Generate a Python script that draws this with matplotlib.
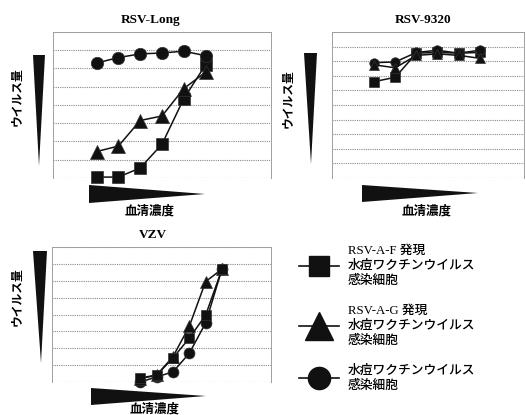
import numpy as np
import matplotlib.pyplot as plt
from matplotlib.patches import Polygon
from matplotlib.lines import Line2D

W, H = 526, 415

# serum dilution steps (same for every panel)
x_pts = [1, 2, 3, 4, 5, 6]

# RSV-Long
long_sq = [0.05, 0.05, 0.55, 1.85, 4.35, 6.2]
long_tri = [1.45, 1.75, 3.15, 3.4, 4.9, 5.8]
long_cir = [6.3, 6.6, 6.8, 6.85, 6.95, 6.7]

# RSV-9320
r9320_sq = [6.6, 6.9, 8.55, 8.6, 8.55, 8.6]
r9320_tri = [7.75, 7.55, 8.4, 8.5, 8.4, 8.2]
r9320_cir = [7.9, 7.95, 8.6, 8.75, 8.55, 8.75]

# VZV
vzv_sq = [0.24, 0.41, 1.42, 2.6, 3.96, 6.69]
vzv_tri = [0.2, 0.4, 1.5, 3.3, 5.95, 6.69]
vzv_cir = [0.0, 0.3, 0.6, 1.7, 3.5, 6.69]

titles = ['RSV-Long', 'RSV-9320', 'VZV']
ylab = 'ウイルス量'
xlab = '血清濃度'
leg_labels = ['RSV-A-F 発現\n水痘ワクチンウイルス\n感染細胞',
              'RSV-A-G 発現\n水痘ワクチンウイルス\n感染細胞',
              '水痘ワクチンウイルス\n感染細胞']

serif = ['Liberation Serif', 'Noto Sans CJK JP']
jp = ['Noto Sans CJK JP', 'DejaVu Sans']


def fx(x):
    return x / W


def fy(y):
    return 1 - y / H


def add_axes_px(l, t, r, b):
    return fig.add_axes([fx(l), fy(b), (r - l) / W, (b - t) / H])


def wedge(pts):
    fig.add_artist(Polygon([(fx(a), fy(b)) for a, b in pts], closed=True,
                           transform=fig.transFigure, facecolor='#111111',
                           edgecolor='none'))


def style_axes(ax, ymax, xlim):
    ax.set_xlim(*xlim)
    ax.set_ylim(0, ymax)
    ax.set_yticks(np.arange(0, ymax + 1))
    ax.set_xticks([])
    ax.tick_params(left=False, labelleft=False)
    ax.grid(axis='y', color='#8a8a8a', linestyle=(0, (1, 1)), linewidth=0.8)
    for s in ax.spines.values():
        s.set_color('#a0a0a0')
        s.set_linestyle((0, (1, 1)))
        s.set_linewidth(0.7)
    ax.spines['bottom'].set_visible(False)
    ax.set_axisbelow(True)


def draw(ax, sq, tri, cir, order, ms):
    series = {
        'sq': (sq, 's', ms),
        'tri': (tri, '^', ms * 1.15),
        'cir': (cir, 'o', ms * 1.05),
    }
    for z, key in enumerate(order):
        vals, mk, m = series[key]
        ax.plot(x_pts, vals, color='#111111', lw=1.1, marker=mk, ms=m,
                markeredgecolor='#333333', markeredgewidth=0.5,
                clip_on=False, zorder=3 + z)


fig = plt.figure(figsize=(W / 100, H / 100), dpi=100)

# RSV-Long
ax1 = add_axes_px(53, 32, 271, 178)
style_axes(ax1, 8, (-1, 9))
draw(ax1, long_sq, long_tri, long_cir, ['sq', 'tri', 'cir'], 8.5)

# RSV-9320
ax2 = add_axes_px(332, 32, 524, 178)
style_axes(ax2, 10, (-1, 8.1))
draw(ax2, r9320_sq, r9320_tri, r9320_cir, ['sq', 'cir', 'tri'], 6.5)

# VZV
ax3 = add_axes_px(52, 247, 271, 382)
style_axes(ax3, 8, (-4.4, 9))
draw(ax3, vzv_sq, vzv_tri, vzv_cir, ['cir', 'tri', 'sq'], 7.5)

# titles
for t, (x, y) in zip(titles, [(151, 20), (423, 20), (153, 235)]):
    fig.text(fx(x), fy(y), t, ha='center', va='center', fontsize=9.5,
             fontweight='bold', family=serif)

# y labels and vertical wedges
for (x, y) in [(17, 97), (288, 99), (17, 297)]:
    fig.text(fx(x), fy(y), ylab, ha='center', va='center', rotation=90,
             fontsize=8.5, fontweight='bold', family=jp)
wedge([(33, 55), (45, 55), (39, 166)])
wedge([(304, 53), (317, 53), (311, 164)])
wedge([(33, 251), (47, 251), (41, 363)])

# x labels and horizontal wedges
for (x, y) in [(150, 211), (427, 211), (155, 409)]:
    fig.text(fx(x), fy(y), xlab, ha='center', va='center',
             fontsize=9, fontweight='bold', family=jp)
wedge([(89, 185), (89, 203), (205, 194)])
wedge([(362, 185), (362, 202), (478, 193)])
wedge([(91, 388), (91, 405), (206, 396)])

# legend
handles = [
    Line2D([], [], color='#111111', lw=1.2, marker='s', ms=15),
    Line2D([], [], color='#111111', lw=1.2, marker='^', ms=20),
    Line2D([], [], color='#111111', lw=1.2, marker='o', ms=16),
]
leg = fig.legend(handles, leg_labels, loc='upper left',
                 bbox_to_anchor=(fx(293), fy(238)), frameon=False,
                 borderpad=0, handlelength=3.1, handletextpad=0.7,
                 labelspacing=1.35, prop={'family': serif, 'size': 9.2,
                                          'weight': 'medium'})
for txt in leg.get_texts():
    txt.set_linespacing(1.35)

fig.savefig('out.png', dpi=100)
